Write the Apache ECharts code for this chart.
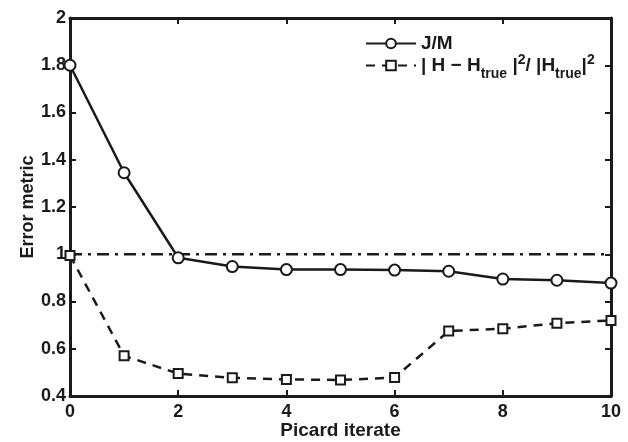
<!DOCTYPE html>
<html>
<head>
<meta charset="utf-8">
<script src="https://cdn.jsdelivr.net/npm/echarts@6/dist/echarts.min.js"></script>
<style>
  html, body { margin: 0; padding: 0; background: #fff; }
  #main { width: 628px; height: 442px; }
</style>
</head>
<body>
<div id="main"></div>
<script>
  // data
  var iterations = [0, 1, 2, 3, 4, 5, 6, 7, 8, 9, 10];
  var jmValues = [1.80, 1.345, 0.985, 0.948, 0.935, 0.935, 0.933, 0.928, 0.895, 0.89, 0.878];
  var hErrValues = [0.995, 0.57, 0.495, 0.477, 0.47, 0.468, 0.478, 0.675, 0.685, 0.708, 0.72];
  var refLevel = 1;
  var xTicks = [0, 2, 4, 6, 8, 10];
  var yTicks = [0.4, 0.6, 0.8, 1, 1.2, 1.4, 1.6, 1.8, 2];

  var font = 'Liberation Sans, Arial, sans-serif';
  var black = '#1a1a1a';

  function pairs(xs, ys) {
    return xs.map(function (x, i) { return [x, ys[i]]; });
  }

  var chart = echarts.init(document.getElementById('main'));

  var axisCommon = {
    axisLine: { show: true, onZero: false, lineStyle: { color: black, width: 3 } },
    axisTick: { show: true, inside: true, length: 6, lineStyle: { color: black, width: 2 } },
    splitLine: { show: false }
  };

  chart.setOption({
    animation: false,
    backgroundColor: '#fff',
    grid: { left: 70, right: 17, top: 18, bottom: 46, outerBoundsMode: 'none', containLabel: false },
    legend: {
      data: ['J/M', 'ratio'],
      orient: 'vertical',
      left: 365,
      top: 34,
      padding: 0,
      itemWidth: 50,
      itemHeight: 12,
      itemGap: -3,
      textStyle: {
        fontFamily: font, fontWeight: 'bold', fontSize: 19, color: black,
        rich: {
          m: { fontFamily: font, fontWeight: 'bold', fontSize: 19, color: black, lineHeight: 31, verticalAlign: 'middle' },
          sub: { fontFamily: font, fontWeight: 'bold', fontSize: 14, color: black, lineHeight: 14, verticalAlign: 'bottom' },
          sup: { fontFamily: font, fontWeight: 'bold', fontSize: 14, color: black, lineHeight: 14, verticalAlign: 'top', padding: [3, 0, 0, 0] }
        }
      },
      formatter: function (name) {
        if (name === 'J/M') return '{m|J/M}';
        return '{m|| H \u2212 H}{sub|true}{m| |}{sup|2}{m|/ |H}{sub|true}{m||}{sup|2}';
      }
    },
    xAxis: [
      Object.assign({
        type: 'value', min: 0, max: 10, interval: 2, position: 'bottom',
        name: 'Picard iterate', nameLocation: 'middle', nameGap: 25, nameMoveOverlap: false,
        nameTextStyle: { fontFamily: font, fontWeight: 'bold', fontSize: 19, color: black },
        axisLabel: {
          fontFamily: font, fontWeight: 'bold', fontSize: 18, color: black, margin: 7,
          formatter: function (v) { return xTicks.indexOf(v) >= 0 ? String(v) : ''; }
        }
      }, axisCommon),
      Object.assign({
        type: 'value', min: 0, max: 10, interval: 2, position: 'top',
        axisLabel: { show: false }
      }, axisCommon)
    ],
    yAxis: [
      Object.assign({
        type: 'value', min: 0.4, max: 2, interval: 0.2, position: 'left',
        name: 'Error metric', nameLocation: 'middle', nameGap: 33, nameMoveOverlap: false,
        nameTextStyle: { fontFamily: font, fontWeight: 'bold', fontSize: 18, color: black },
        axisLabel: {
          fontFamily: font, fontWeight: 'bold', fontSize: 18, color: black, margin: 4,
          formatter: function (v) {
            var r = Math.round(v * 10) / 10;
            return yTicks.indexOf(r) >= 0 ? String(r) : '';
          }
        }
      }, axisCommon),
      Object.assign({
        type: 'value', min: 0.4, max: 2, interval: 0.2, position: 'right',
        axisLabel: { show: false }
      }, axisCommon)
    ],
    series: [
      {
        name: 'J/M',
        type: 'line',
        data: pairs(iterations, jmValues),
        symbol: 'emptyCircle',
        symbolSize: 11,
        lineStyle: { color: black, width: 2.5 },
        itemStyle: { color: black, borderColor: black, borderWidth: 2.5 },
        z: 4
      },
      {
        name: 'ratio',
        type: 'line',
        data: pairs(iterations, hErrValues),
        symbol: 'emptyRect',
        symbolSize: 9,
        lineStyle: { color: black, width: 2.5, type: [9, 7] },
        itemStyle: { color: black, borderColor: black, borderWidth: 2 },
        z: 3
      },
      {
        name: 'ref',
        type: 'line',
        data: [[0, refLevel], [10, refLevel]],
        symbol: 'none',
        lineStyle: { color: black, width: 2.5, type: [12, 6, 3, 6] },
        z: 2
      }
    ]
  });
</script>
</body>
</html>
